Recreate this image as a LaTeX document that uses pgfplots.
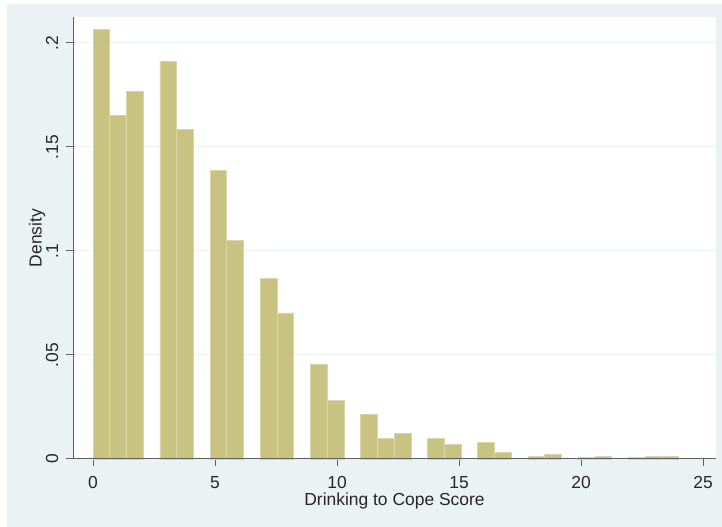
\documentclass[border=0pt]{standalone}
\usepackage{fontspec}
\setmainfont{Liberation Sans}
\usepackage{pgfplots}
\usepackage{pgfplotstable}
\pgfplotsset{compat=1.18}

\definecolor{stbg}{RGB}{234,242,243}
\definecolor{stbar}{RGB}{201,195,129}
\definecolor{stedge}{RGB}{217,213,168}
\definecolor{staxis}{RGB}{96,96,96}

% Histogram of the drinking-to-cope score: bin centres (bin width 24/35) and densities
\pgfplotstableread{
x        y
0.3429   0.2063
1.0286   0.1652
1.7143   0.1769
3.0857   0.1913
3.7714   0.1585
5.1429   0.1389
5.8286   0.1051
7.2000   0.0867
7.8857   0.0702
9.2571   0.0454
9.9429   0.0282
11.3143  0.0216
12.0000  0.0098
12.6857  0.0122
14.0571  0.0098
14.7429  0.0071
16.1143  0.0079
16.8000  0.0032
18.1714  0.0011
18.8571  0.0022
20.2286  0.0007
20.9143  0.0012
22.2857  0.0006
22.9714  0.0012
23.6571  0.0012
}\copedata

\begin{document}
\begin{tikzpicture}[x=1bp,y=1bp]
% graph region and plot region
\fill[white] (0,0) rectangle (722,527);
\fill[stbg] (7,0) rectangle (722,523);
\fill[white] (73,68) rectangle (716,510);
\path[use as bounding box] (0,0) rectangle (722,527);
\begin{axis}[
  at={(73bp,68bp)}, anchor=south west,
  scale only axis, width=643bp, height=442bp,
  xmin=-0.82, xmax=25.53, ymin=0, ymax=0.2125,
  axis lines*=left,
  axis line style={staxis, line width=1bp, -},
  tick style={staxis, line width=1bp},
  tick align=outside, major tick length=7bp,
  xtick={0,5,10,15,20,25},
  xticklabels={0,5,10,15,20,25},
  ytick={0,0.05,0.1,0.15,0.2},
  yticklabels={0,.05,.1,.15,.2},
  ymajorgrids,
  major grid style={stbg, line width=1bp},
  /pgf/number format/assume math mode=true,
  tick label style={font=\fontsize{17.5}{21}\selectfont, text=black!85},
  xticklabel style={inner sep=0pt, anchor=north, yshift=-10.5bp},
  yticklabel style={rotate=90, inner sep=0pt, anchor=base, yshift=8bp},
  label style={font=\fontsize{17.5}{21}\selectfont, text=black!85},
  xlabel={Drinking to Cope Score},
  ylabel={Density},
  xlabel style={at={(axis description cs:0.5,0)}, anchor=base, inner sep=0pt, yshift=-46.7bp},
  ylabel style={at={(axis description cs:0,0.5)}, anchor=base, inner sep=0pt, yshift=31.3bp},
  clip=false,
]
\addplot[ybar, bar width=0.6857, fill=stbar, draw=stedge, line width=0.8bp] table[x=x, y=y] {\copedata};
% redraw the baseline over the bar edges
\draw[staxis, line width=1bp] (axis cs:-0.82,0) -- (axis cs:25.53,0);
\end{axis}
\end{tikzpicture}
\end{document}
